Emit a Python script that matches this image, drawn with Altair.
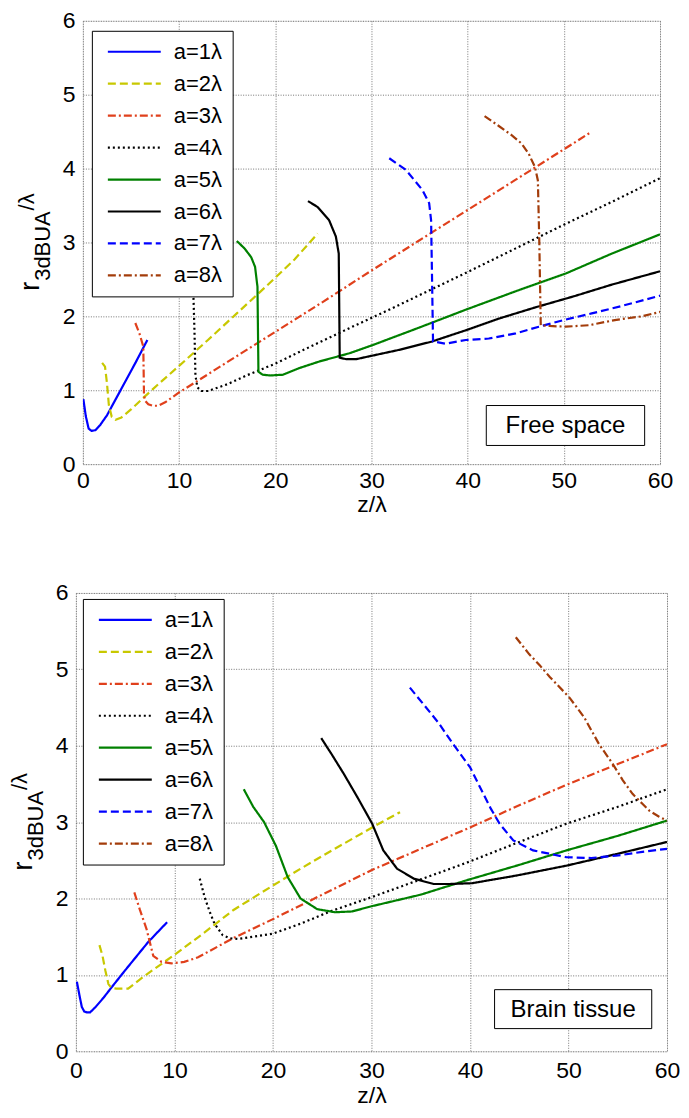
import altair as alt
import pandas as pd

FONT = "Liberation Sans"

SERIES = ["a=1λ", "a=2λ", "a=3λ", "a=4λ", "a=5λ", "a=6λ", "a=7λ", "a=8λ"]
COLORS = ["#0000FF", "#C8C800", "#E0401C", "#000000", "#008000", "#000000", "#0000FF", "#A33C0A"]
DASHES = [[1, 0], [8, 4], [8, 3, 2, 3], [2, 3], [1, 0], [1, 0], [8, 4], [8, 3, 2, 3]]

X_TICKS = [0, 10, 20, 30, 40, 50, 60]
Y_TICKS = [0, 1, 2, 3, 4, 5, 6]

# ---------------- Free space ----------------
FS1_Z = [0.05, 0.3, 0.6, 0.9, 1.3, 1.8, 2.5, 3.5, 4.5, 5.5, 6.7]
FS1_R = [0.88, 0.65, 0.48, 0.45, 0.46, 0.53, 0.66, 0.9, 1.14, 1.38, 1.68]

FS2_Z = [2.0, 2.3, 2.5, 2.7, 3.0, 3.4, 4.0, 5.0, 6.3, 8.0, 10.0, 13, 16, 19, 22, 24.4]
FS2_R = [1.37, 1.32, 1.1, 0.8, 0.64, 0.6, 0.63, 0.74, 0.9, 1.1, 1.33, 1.68, 2.04, 2.4, 2.77, 3.12]

FS3_Z = [5.45, 5.9, 6.28, 6.35, 6.45, 6.8, 7.3, 7.8, 8.6, 10, 15, 20, 25, 30, 35, 40, 45, 50, 52.9]
FS3_R = [1.91, 1.76, 1.59, 0.95, 0.86, 0.81, 0.79, 0.79, 0.84, 0.97, 1.38, 1.79, 2.2, 2.62, 3.03, 3.44, 3.85, 4.26, 4.5]

FS4_Z = [11.5, 11.6, 11.7, 11.9, 12.3, 13, 15, 17, 20, 23, 27.7, 32, 36, 40, 45, 50, 55, 60]
FS4_R = [2.25, 1.8, 1.2, 1.04, 0.99, 0.99, 1.08, 1.2, 1.36, 1.55, 1.84, 2.1, 2.35, 2.6, 2.92, 3.24, 3.55, 3.87]

FS5_Z = [16.0, 16.8, 17.5, 17.9, 18.15, 18.25, 18.7, 19.5, 20.8, 22.5, 24.6, 27.7, 30.1, 35, 39.8, 45, 50.2, 55, 60]
FS5_R = [3.02, 2.92, 2.8, 2.67, 2.4, 1.25, 1.21, 1.2, 1.21, 1.3, 1.39, 1.5, 1.61, 1.85, 2.09, 2.34, 2.58, 2.85, 3.11]

FS6_Z = [23.4, 24.4, 25.6, 26.3, 26.6, 26.66, 26.7, 27.4, 28.4, 29.8, 33, 36.3, 40, 43.25, 47, 51, 55, 60]
FS6_R = [3.56, 3.48, 3.30, 3.08, 2.85, 2.0, 1.44, 1.42, 1.42, 1.46, 1.55, 1.66, 1.82, 1.97, 2.12, 2.27, 2.43, 2.61]

FS7_Z = [31.85, 33.6, 35.3, 36.0, 36.2, 36.3, 36.4, 37.7, 39.8, 42.2, 45, 47.4, 50, 52.9, 56, 60]
FS7_R = [4.14, 3.98, 3.71, 3.53, 3.3, 2.5, 1.66, 1.63, 1.68, 1.70, 1.77, 1.86, 1.95, 2.04, 2.14, 2.28]

FS8_Z = [41.76, 43.2, 44.6, 45.6, 46.35, 47.0, 47.3, 47.45, 47.6, 48.5, 50.2, 52.6, 55.3, 58.1, 60]
FS8_R = [4.71, 4.58, 4.45, 4.34, 4.20, 4.02, 3.84, 3.0, 1.88, 1.87, 1.86, 1.88, 1.95, 2.0, 2.06]

# ---------------- Brain tissue ----------------
BT1_Z = [0.1, 0.35, 0.6, 0.85, 1.1, 1.45, 2.0, 2.8, 3.64, 5, 6.2, 7.34, 8.3, 9.26]
BT1_R = [0.91, 0.74, 0.58, 0.52, 0.51, 0.51, 0.58, 0.7, 0.84, 1.06, 1.25, 1.43, 1.56, 1.69]

BT2_Z = [2.39, 2.7, 3.0, 3.3, 3.6, 4.14, 5.3, 7.0, 9.97, 13, 16, 20, 22.8, 26, 30.07, 32.9]
BT2_R = [1.39, 1.25, 1.05, 0.88, 0.83, 0.82, 0.82, 0.99, 1.26, 1.55, 1.85, 2.17, 2.39, 2.63, 2.93, 3.13]

BT3_Z = [5.93, 6.5, 7.17, 7.85, 8.69, 9.7, 11, 12.4, 15.8, 20, 25, 30, 35, 40, 45, 50, 55, 60]
BT3_R = [2.08, 1.85, 1.60, 1.25, 1.17, 1.15, 1.17, 1.23, 1.47, 1.73, 2.05, 2.37, 2.65, 2.93, 3.22, 3.5, 3.76, 4.02]

BT4_Z = [12.57, 13.06, 13.6, 14.07, 14.9, 15.6, 16.43, 18, 20, 22.8, 26, 30.07, 35, 39.7, 45, 49.8, 55, 60]
BT4_R = [2.26, 2.02, 1.82, 1.67, 1.52, 1.48, 1.47, 1.5, 1.54, 1.67, 1.84, 2.02, 2.25, 2.47, 2.74, 2.98, 3.2, 3.43]

BT5_Z = [17.04, 18, 19.1, 20.3, 21.5, 22.8, 24.5, 26.3, 28, 30.07, 35, 39.7, 45, 49.8, 55, 60]
BT5_R = [3.43, 3.2, 3.0, 2.69, 2.28, 2.0, 1.86, 1.82, 1.83, 1.90, 2.05, 2.24, 2.44, 2.63, 2.82, 3.02]

BT6_Z = [24.9, 26, 27.2, 28.6, 30.07, 31.2, 32.6, 34.3, 36.3, 38, 40.2, 44.7, 49.8, 54.8, 60]
BT6_R = [4.10, 3.88, 3.63, 3.32, 2.98, 2.63, 2.39, 2.26, 2.19, 2.19, 2.2, 2.30, 2.43, 2.58, 2.74]

BT7_Z = [33.9, 35.3, 36.8, 38.3, 40.0, 41.2, 42.1, 43.0, 44.4, 46.4, 49.8, 52.3, 54.8, 57.5, 60]
BT7_R = [4.76, 4.54, 4.3, 4.02, 3.72, 3.41, 3.18, 2.98, 2.76, 2.63, 2.54, 2.53, 2.56, 2.61, 2.65]

BT8_Z = [44.65, 46, 47.1, 48.1, 50.1, 51.6, 53.1, 54.5, 55.5, 56.5, 57.5, 58.2, 59.2, 60]
BT8_R = [5.42, 5.2, 5.05, 4.9, 4.63, 4.37, 4.02, 3.76, 3.55, 3.37, 3.24, 3.15, 3.07, 3.02]

FS = [(FS1_Z, FS1_R), (FS2_Z, FS2_R), (FS3_Z, FS3_R), (FS4_Z, FS4_R),
      (FS5_Z, FS5_R), (FS6_Z, FS6_R), (FS7_Z, FS7_R), (FS8_Z, FS8_R)]
BT = [(BT1_Z, BT1_R), (BT2_Z, BT2_R), (BT3_Z, BT3_R), (BT4_Z, BT4_R),
      (BT5_Z, BT5_R), (BT6_Z, BT6_R), (BT7_Z, BT7_R), (BT8_Z, BT8_R)]


def make_df(pairs):
    rows = []
    for name, (zs, rs) in zip(SERIES, pairs):
        for i, (z, r) in enumerate(zip(zs, rs)):
            rows.append({"series": name, "z": z, "r": r, "i": i})
    return pd.DataFrame(rows)


GRID = dict(grid=True, gridDash=[1, 1.5], gridColor="#666666", gridWidth=0.9)


def panel(pairs, w, h, box_label, box_x, box_y, box_w, box_h, leg_x, leg_y,
          xlab_pad, xtitle_pad):
    legend = alt.Legend(
        title=None, orient="none", legendX=leg_x, legendY=leg_y, direction="vertical",
        strokeColor="black", fillColor="white", padding=10, cornerRadius=0,
        labelFont=FONT, labelFontSize=22, labelColor="black",
        symbolType="M-1,0H9.6", symbolSize=100, symbolStrokeWidth=2.2,
        labelOffset=50, rowPadding=10,
    )
    lines = alt.Chart(make_df(pairs)).mark_line(strokeWidth=2.2, clip=True).encode(
        x=alt.X("z:Q", scale=alt.Scale(domain=[0, 60], nice=False),
                axis=alt.Axis(values=X_TICKS, title="z/λ", ticks=False, tickSize=0,
                              labelFont=FONT, labelFontSize=23, labelColor="black",
                              labelPadding=xlab_pad, labelFlush=False, labelOverlap=False,
                              titleFont=FONT, titleFontSize=23, titleFontWeight="normal",
                              titleColor="black", titlePadding=xtitle_pad,
                              domain=False, **GRID)),
        y=alt.Y("r:Q", scale=alt.Scale(domain=[0, 6], nice=False),
                axis=alt.Axis(values=Y_TICKS, title=None, ticks=False, tickSize=0,
                              labelFont=FONT, labelFontSize=23, labelColor="black",
                              labelPadding=8, labelFlush=False, labelOverlap=False,
                              domain=False, **GRID)),
        color=alt.Color("series:N", scale=alt.Scale(domain=SERIES, range=COLORS), legend=legend),
        strokeDash=alt.StrokeDash("series:N", scale=alt.Scale(domain=SERIES, range=DASHES), legend=legend),
        order=alt.Order("i:Q"),
    )
    one = alt.Chart(pd.DataFrame({"k": [0]}))
    rect = one.mark_rect(fill="white", stroke="black", strokeWidth=1).encode(
        x=alt.value(box_x), x2=alt.value(box_x + box_w),
        y=alt.value(box_y), y2=alt.value(box_y + box_h))
    txt = one.mark_text(text=box_label, font=FONT, fontSize=24, align="center",
                        baseline="middle", color="black").encode(
        x=alt.value(box_x + box_w / 2), y=alt.value(box_y + box_h / 2 + 1))
    c = h / 2
    start = c + 48.7
    t_r = one.mark_text(text="r", font=FONT, fontSize=28, angle=270, align="left",
                        baseline="alphabetic", color="black").encode(
        x=alt.value(-44), y=alt.value(start))
    t_sub = one.mark_text(text="3dBUA", font=FONT, fontSize=22, angle=270, align="left",
                          baseline="alphabetic", color="black").encode(
        x=alt.value(-33), y=alt.value(start - 10.3))
    t_lam = one.mark_text(text="/λ", font=FONT, fontSize=22, angle=270, align="left",
                          baseline="alphabetic", color="black").encode(
        x=alt.value(-49), y=alt.value(start - 10.3 - 70.5))
    return alt.layer(lines, rect, txt, t_r, t_sub, t_lam).properties(width=w, height=h)


top = panel(FS, 578, 444, "Free space", 404, 385.3, 158.6, 40, 9, 10, 5, 1)
bottom = panel(BT, 592, 459, "Brain tissue", 419.3, 397.3, 157.4, 39, 7, 6, 8, 2)

chart = alt.vconcat(top, bottom, spacing=129, center=True, bounds="flush").resolve_scale(
    x="independent", y="independent", color="independent", strokeDash="independent"
).resolve_legend(color="independent", strokeDash="independent").properties(
    padding={"left": 0, "top": 0, "right": 0, "bottom": 0}
).configure_view(stroke="black", strokeWidth=1.3).configure(background="white")

chart.save("out.html", embed_options={"renderer": "svg", "actions": False})
